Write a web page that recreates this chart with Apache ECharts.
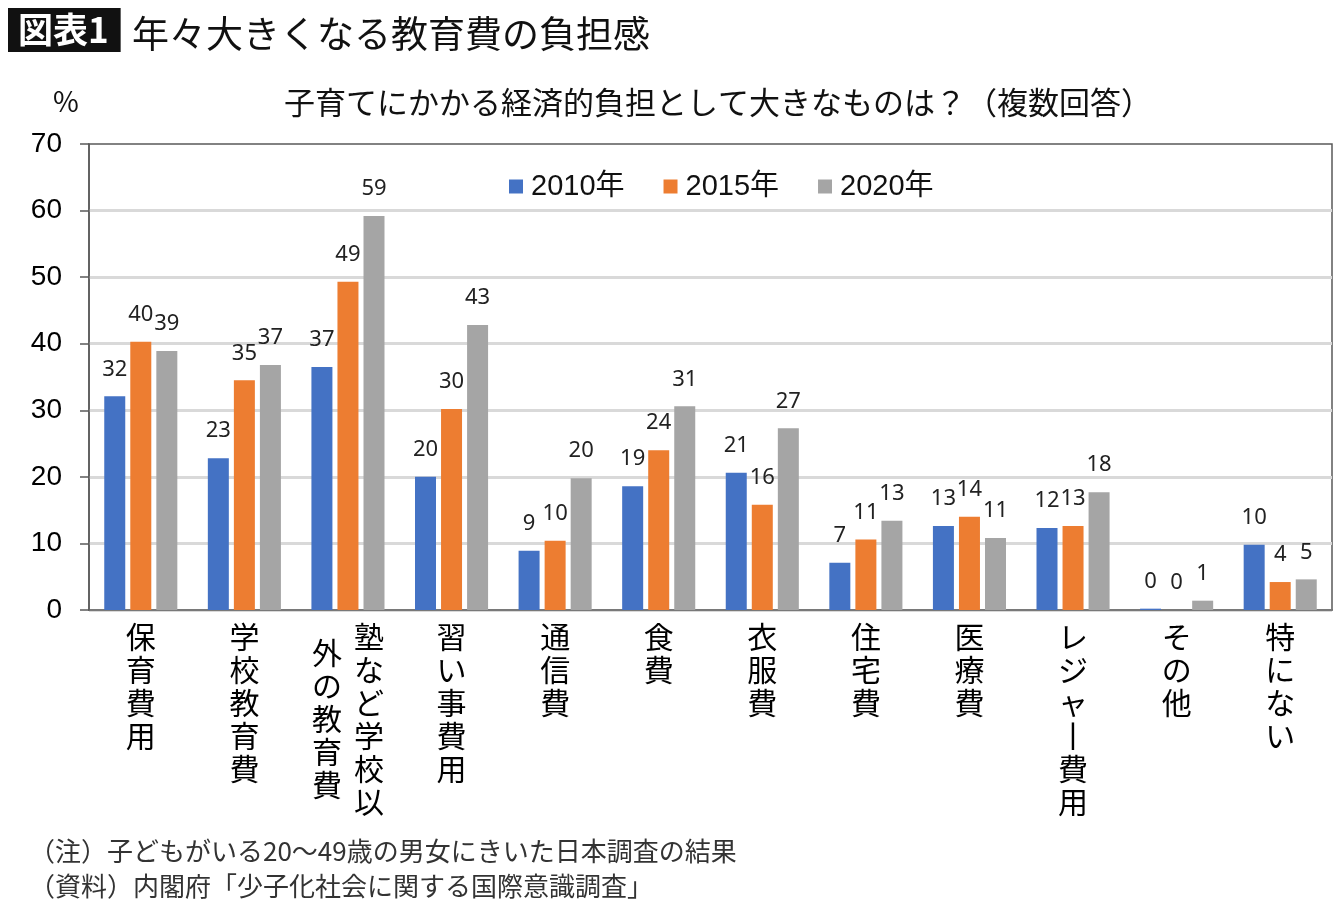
<!DOCTYPE html>
<html>
<head>
<meta charset="utf-8">
<script src="https://cdn.jsdelivr.net/npm/echarts@6/dist/echarts.min.js"></script>
<style>
  html, body { margin: 0; padding: 0; background: #fff; }
  #main { width: 1340px; height: 905px; }
</style>
</head>
<body>
<div id="main"></div>
<script>
// 項目
var categories = ['保育費用', '学校教育費', '塾など学校以外の教育費', '習い事費用', '通信費', '食費',
  '衣服費', '住宅費', '医療費', 'レジャー費用', 'その他', '特にない'];
var seriesNames = ['2010年', '2015年', '2020年'];
// 値（%）
var values2010 = [32.1, 22.8, 36.5, 20.0, 8.9, 18.6, 20.6, 7.1, 12.6, 12.3, 0.2, 9.8];
var values2015 = [40.3, 34.5, 49.3, 30.2, 10.4, 24.0, 15.8, 10.6, 14.0, 12.6, 0.0, 4.2];
var values2020 = [38.9, 36.8, 59.2, 42.8, 19.8, 30.6, 27.3, 13.4, 10.8, 17.7, 1.4, 4.6];
var yTicks = [0, 10, 20, 30, 40, 50, 60, 70];

var colors = ['#4472C4', '#ED7D31', '#A5A5A5'];
var jpFont = '"Noto Sans CJK JP", "Noto Sans", sans-serif';

var myChart = echarts.init(document.getElementById('main'));

// 縦書きラベル（2列のものは右列から、左列は半行下げる）
function verticalLabel(name) {
  if (name === '塾など学校以外の教育費') {
    var right = '塾など学校以'.split('');
    var left = '外の教育費'.split('');
    var rows = ['{s|　}'];
    for (var i = 0; i < right.length; i++) {
      rows.push('{hl|　}{h|' + right[i] + '}');
      if (left[i]) rows.push('{hl|' + left[i] + '}{h|　}');
    }
    return rows.join('\n');
  }
  return name.replace('ー', '丨').split('').join('\n');
}

function makeSeries(idx, data) {
  return {
    name: seriesNames[idx],
    type: 'bar',
    data: data,
    barWidth: 21,
    barGap: '24%',
    itemStyle: { color: colors[idx] },
    label: {
      show: true,
      position: 'top',
      distance: 16,
      fontSize: 22,
      fontFamily: '"Noto Sans", sans-serif',
      color: '#222',
      formatter: function (p) { return Math.round(p.value); }
    }
  };
}

var splitColors = yTicks.map(function (v) {
  return v === yTicks[yTicks.length - 1] ? 'rgba(0,0,0,0)' : '#d9d9d9';
});

var option = {
  backgroundColor: '#fff',
  animation: false,
  title: [
    {
      text: '図表1', left: 8, top: 8,
      backgroundColor: '#111', padding: [3, 12, 3, 10],
      textStyle: { color: '#fff', fontSize: 35, fontWeight: 'bold', fontFamily: jpFont, lineHeight: 38 }
    },
    {
      text: '年々大きくなる教育費の負担感', left: 127, top: 8,
      textStyle: { color: '#111', fontSize: 37, fontWeight: 'normal', fontFamily: jpFont, lineHeight: 42 }
    },
    {
      text: '子育てにかかる経済的負担として大きなものは？（複数回答）', left: 279, top: 82,
      textStyle: { color: '#111', fontSize: 31, fontWeight: 'normal', fontFamily: jpFont }
    },
    {
      text: '%', left: 48, top: 82,
      textStyle: { color: '#111', fontSize: 28, fontWeight: 'normal', fontFamily: jpFont }
    },
    {
      text: '（注）子どもがいる20〜49歳の男女にきいた日本調査の結果', left: 24, top: 833,
      textStyle: { color: '#333', fontSize: 26, fontWeight: 'normal', fontFamily: jpFont }
    },
    {
      text: '（資料）内閣府「少子化社会に関する国際意識調査」', left: 24, top: 868,
      textStyle: { color: '#333', fontSize: 26, fontWeight: 'normal', fontFamily: jpFont }
    }
  ],
  legend: {
    data: seriesNames,
    left: 504, top: 167,
    icon: 'rect', itemWidth: 14, itemHeight: 14, itemGap: 39,
    textStyle: { fontSize: 29, color: '#111', fontFamily: '"Liberation Sans", "Noto Sans CJK JP", sans-serif',
      padding: [0, 0, 0, 3] }
  },
  grid: {
    left: 89, right: 8, top: 144, bottom: 295,
    show: true, borderColor: '#595959', borderWidth: 1.5
  },
  xAxis: {
    type: 'category',
    data: categories,
    axisTick: { show: false },
    axisLine: { lineStyle: { color: '#595959', width: 1.5 } },
    axisLabel: {
      interval: 0,
      margin: 10,
      fontSize: 30,
      lineHeight: 33,
      color: '#000',
      fontFamily: jpFont,
      verticalAlign: 'top',
      formatter: verticalLabel,
      rich: {
        s: { fontSize: 30, lineHeight: 8, color: '#000', fontFamily: jpFont },
        h: { fontSize: 30, lineHeight: 16.5, color: '#000', fontFamily: jpFont },
        hl: { fontSize: 30, lineHeight: 16.5, padding: [0, 12, 0, 0], color: '#000', fontFamily: jpFont }
      }
    }
  },
  yAxis: {
    type: 'value',
    min: 0, max: 70, interval: 10,
    axisLine: { show: true, lineStyle: { color: '#595959', width: 1.5 } },
    axisTick: { show: true, length: 9, lineStyle: { color: '#595959', width: 1.5 } },
    axisLabel: { fontSize: 28, color: '#000', margin: 27, fontFamily: '"Liberation Sans", sans-serif' },
    splitLine: { lineStyle: { color: splitColors, width: 3 } }
  },
  series: [
    makeSeries(0, values2010),
    makeSeries(1, values2015),
    makeSeries(2, values2020)
  ]
};

myChart.setOption(option);
</script>
</body>
</html>
